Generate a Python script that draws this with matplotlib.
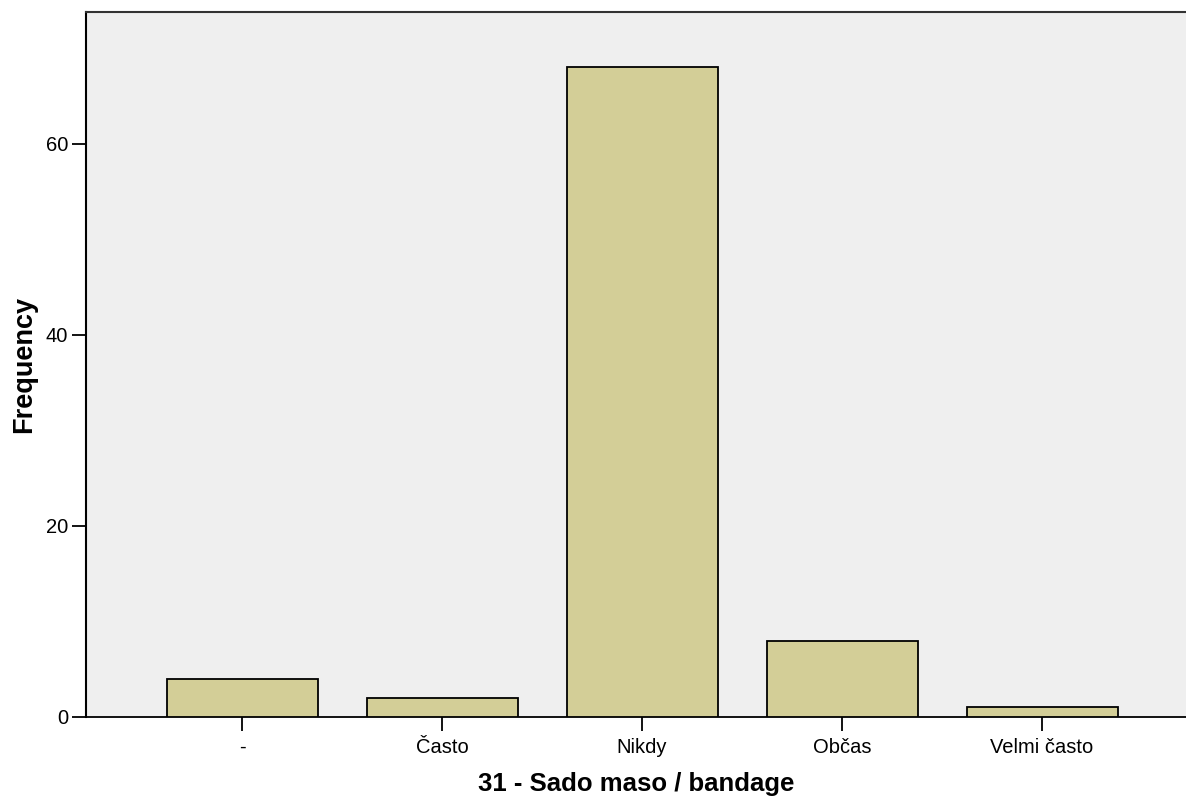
import matplotlib.pyplot as plt
import numpy as np

categories = ['-', 'Často', 'Nikdy', 'Občas', 'Velmi často']
counts = [4, 2, 68, 8, 1]
y_ticks = [0, 20, 40, 60]


def plot_bars():
    plt.rcParams['font.family'] = ['Liberation Sans', 'DejaVu Sans']
    fig = plt.figure(figsize=(11.86, 8.02), dpi=100)
    ax = fig.add_axes([86 / 1186, 1 - 717 / 802, 1 - 86 / 1186, 705 / 802])
    ax.set_facecolor('#efefef')

    x = np.arange(len(categories))
    ax.bar(x, counts, width=0.755, color='#d3ce97', edgecolor='black',
           linewidth=1.3, zorder=3)

    ax.set_xlim(-0.78, 4.72)
    ax.set_ylim(0, 73.8)
    ax.set_xticks(x)
    ax.set_xticklabels(categories, fontsize=14.5)
    ax.set_yticks(y_ticks)
    ax.set_yticklabels([str(v) for v in y_ticks], fontsize=14.5)
    ax.tick_params(axis='x', length=10, width=1.3, pad=5)
    ax.tick_params(axis='y', length=10, width=1.3, pad=3)

    ax.spines['right'].set_visible(False)
    ax.spines['left'].set_linewidth(1.5)
    ax.spines['bottom'].set_linewidth(1.3)
    ax.spines['top'].set_linewidth(1.5)
    ax.spines['top'].set_color('#333333')

    ax.set_xlabel('31 - Sado maso / bandage', fontsize=18.5, fontweight='bold',
                  labelpad=11)
    ax.set_ylabel('Frequency', fontsize=19.5, fontweight='bold', labelpad=6)

    fig.savefig('out.png', dpi=100)


def main():
    plot_bars()


if __name__ == "__main__":
    main()
